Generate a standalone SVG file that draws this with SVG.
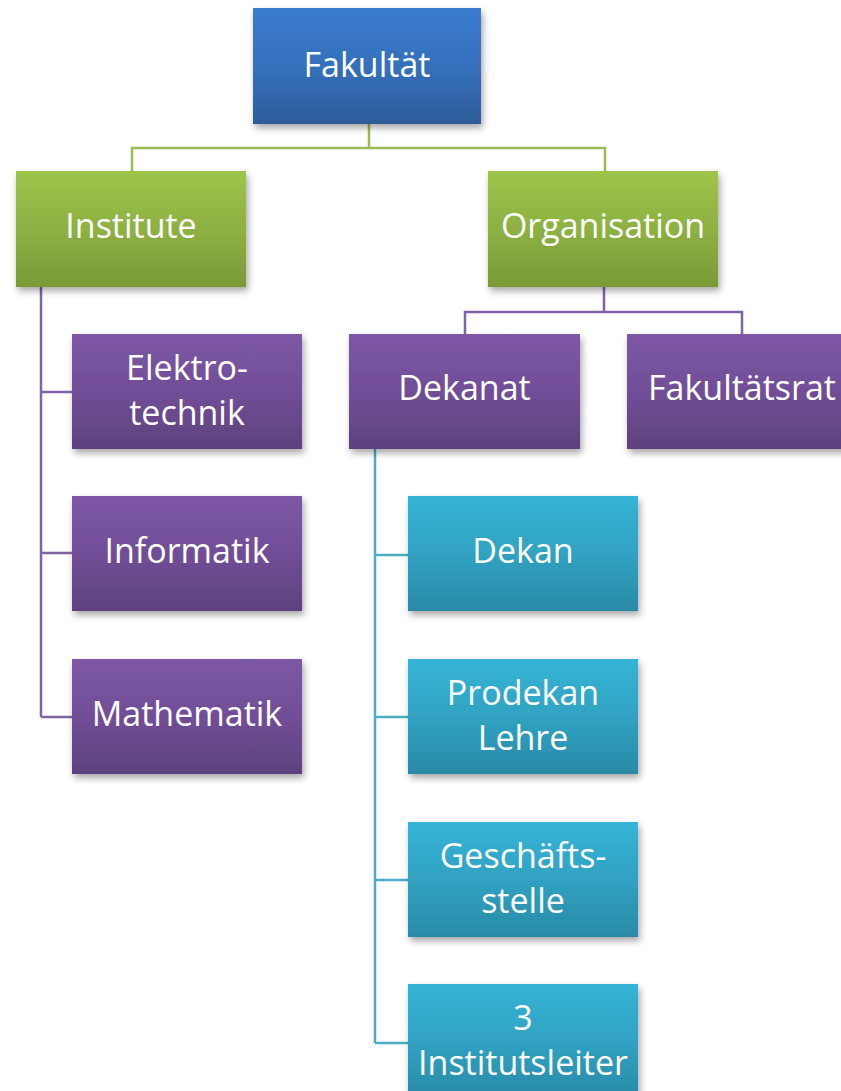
<svg xmlns="http://www.w3.org/2000/svg" width="841" height="1091" viewBox="0 0 841 1091">
<defs>
<linearGradient id="gBlue" x1="0" y1="0" x2="0" y2="1">
<stop offset="0" stop-color="#3A7CCE"/><stop offset="0.5" stop-color="#3470BC"/><stop offset="1" stop-color="#2D5C99"/>
</linearGradient>
<linearGradient id="gGreen" x1="0" y1="0" x2="0" y2="1">
<stop offset="0" stop-color="#9EC54A"/><stop offset="0.5" stop-color="#8DB143"/><stop offset="1" stop-color="#799A36"/>
</linearGradient>
<linearGradient id="gPurple" x1="0" y1="0" x2="0" y2="1">
<stop offset="0" stop-color="#7D58A6"/><stop offset="0.5" stop-color="#714E97"/><stop offset="1" stop-color="#5E417E"/>
</linearGradient>
<linearGradient id="gTeal" x1="0" y1="0" x2="0" y2="1">
<stop offset="0" stop-color="#36B4D7"/><stop offset="0.5" stop-color="#30A2C2"/><stop offset="1" stop-color="#2A8AA6"/>
</linearGradient>
<filter id="shadow" x="-10%" y="-10%" width="125%" height="135%">
<feDropShadow dx="2" dy="4" stdDeviation="3.5" flood-color="#000" flood-opacity="0.35"/>
</filter>
</defs>
<style>
.box{filter:url(#shadow);}
.t{font-family:"Open Sans","DejaVu Sans",sans-serif;font-size:34px;fill:#FFFFFF;text-anchor:middle;}
.lg{fill:none;stroke:#9BBB59;stroke-width:2.5;}
.lp{fill:none;stroke:#8064A2;stroke-width:2.5;}
.lt{fill:none;stroke:#4BACC6;stroke-width:2.5;}
</style>
<g id="connectors">
<path class="lg" d="M369,124 V148 M132,171 V148 H605 V171"/>
<path class="lp" d="M41,287 V717 M41,392 H72 M41,553 H72 M41,717 H72"/>
<path class="lp" d="M604,287 V312 M465,334 V312 H742 V334"/>
<path class="lt" d="M375,449 V1043 M375,555 H408 M375,717 H408 M375,880 H408 M375,1043 H408"/>
</g>
<g id="fakultaet"><rect class="box" x="253" y="8" width="228" height="116" fill="url(#gBlue)"/><text class="t" x="367" y="77">Fakultät</text></g>
<g id="institute"><rect class="box" x="16" y="171" width="230" height="116" fill="url(#gGreen)"/><text class="t" x="131" y="238">Institute</text></g>
<g id="organisation"><rect class="box" x="488" y="171" width="230" height="116" fill="url(#gGreen)"/><text class="t" x="603" y="238">Organisation</text></g>
<g id="elektrotechnik"><rect class="box" x="72" y="334" width="230" height="115" fill="url(#gPurple)"/><text class="t" x="187" y="380">Elektro-</text><text class="t" x="187" y="425">technik</text></g>
<g id="informatik"><rect class="box" x="72" y="496" width="230" height="115" fill="url(#gPurple)"/><text class="t" x="187" y="563">Informatik</text></g>
<g id="mathematik"><rect class="box" x="72" y="659" width="230" height="115" fill="url(#gPurple)"/><text class="t" x="187" y="726">Mathematik</text></g>
<g id="dekanat"><rect class="box" x="349" y="334" width="231" height="115" fill="url(#gPurple)"/><text class="t" x="464.5" y="400">Dekanat</text></g>
<g id="fakultaetsrat"><rect class="box" x="627" y="334" width="230" height="115" fill="url(#gPurple)"/><text class="t" x="742" y="400">Fakultätsrat</text></g>
<g id="dekan"><rect class="box" x="408" y="496" width="230" height="115" fill="url(#gTeal)"/><text class="t" x="523" y="563">Dekan</text></g>
<g id="prodekan"><rect class="box" x="408" y="659" width="230" height="115" fill="url(#gTeal)"/><text class="t" x="523" y="705">Prodekan</text><text class="t" x="523" y="750">Lehre</text></g>
<g id="geschaeftsstelle"><rect class="box" x="408" y="822" width="230" height="115" fill="url(#gTeal)"/><text class="t" x="523" y="868">Geschäfts-</text><text class="t" x="523" y="913">stelle</text></g>
<g id="institutsleiter"><rect class="box" x="408" y="984" width="230" height="115" fill="url(#gTeal)"/><text class="t" x="523" y="1030">3</text><text class="t" x="523" y="1075">Institutsleiter</text></g>
</svg>
